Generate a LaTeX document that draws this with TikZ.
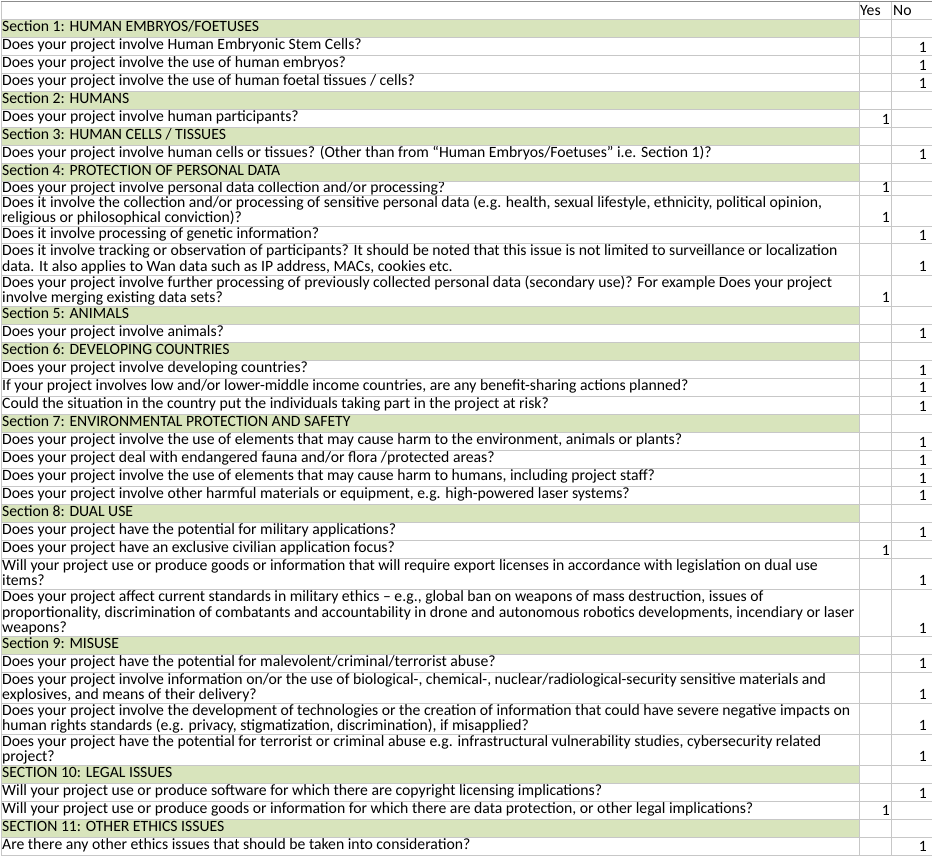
\documentclass[tikz,border=0pt]{standalone}
\usepackage{fontspec}
\setmainfont{Carlito}

\definecolor{sectiongreen}{RGB}{216,228,188}
\tikzstyle{section_fill} = [fill=sectiongreen]
\tikzstyle{grid_line} = [draw=black!22, line width=0.9pt]
\tikzstyle{cell_text} = [anchor=base west, inner sep=0pt, align=left, font=\fontsize{15.7}{15.5}\selectfont]
\tikzstyle{answer} = [anchor=base east, inner sep=0pt, font=\fontsize{15.7}{15.5}\selectfont]

\begin{document}
\begin{tikzpicture}[x=1pt, y=-1pt]
    \useasboundingbox (0,0) rectangle (932,856);

    % section rows
    \foreach \t/\b in {19.3/37.7, 91.7/109.7, 127.7/145.7, 163.3/181.7, 306/324.3, 342/360,
                       414.3/432.7, 504/522.3, 636.7/654.7, 765/783.3, 819/837.7}
        \fill [section_fill] (1,\t) rectangle (859.3,\b);

    % header
    \node (yes) [cell_text] at (860,16) {Yes};
    \node (no)  [cell_text] at (893,16) {No};

    % Section 1
    \node (sec1) [cell_text] at (2,31.3) {Section 1: HUMAN EMBRYOS/FOETUSES};
    \node (q1a) [cell_text] at (2,49.7) {Does your project involve Human Embryonic Stem Cells?};
    \node (a1a) [answer] at (927,52.4) {1};
    \node (q1b) [cell_text] at (2,67.7) {Does your project involve the use of human embryos?};
    \node (a1b) [answer] at (927,70.4) {1};
    \node (q1c) [cell_text] at (2,85.7) {Does your project involve the use of human foetal tissues / cells?};
    \node (a1c) [answer] at (927,88.4) {1};

    % Section 2
    \node (sec2) [cell_text] at (2,103.7) {Section 2: HUMANS};
    \node (q2a) [cell_text] at (2,121.7) {Does your project involve human participants?};
    \node (a2a) [answer] at (890,124.4) {1};

    % Section 3
    \node (sec3) [cell_text] at (2,139.7) {Section 3: HUMAN CELLS / TISSUES};
    \node (q3a) [cell_text] at (2,157.5) {Does your project involve human cells or tissues? (Other than from “Human Embryos/Foetuses” i.e. Section 1)?};
    \node (a3a) [answer] at (927,160) {1};

    % Section 4
    \node (sec4) [cell_text] at (2,175.5) {Section 4: PROTECTION OF PERSONAL DATA};
    \node (q4a) [cell_text] at (2,192.5) {Does your project involve personal data collection and/or processing?};
    \node (a4a) [answer] at (890,192.7) {1};
    \node (q4b) [cell_text] at (2,222.8) {Does it involve the collection and/or processing of sensitive personal data (e.g. health, sexual lifestyle, ethnicity, political opinion,\\religious or philosophical conviction)?};
    \node (a4b) [answer] at (890,222.7) {1};
    \node (q4c) [cell_text] at (2,238) {Does it involve processing of genetic information?};
    \node (a4c) [answer] at (927,240) {1};
    \node (q4d) [cell_text] at (2,271) {Does it involve tracking or observation of participants? It should be noted that this issue is not limited to surveillance or localization\\data. It also applies to Wan data such as IP address, MACs, cookies etc.};
    \node (a4d) [answer] at (927,271.7) {1};
    \node (q4e) [cell_text] at (2,302.5) {Does your project involve further processing of previously collected personal data (secondary use)? For example Does your project\\involve merging existing data sets?};
    \node (a4e) [answer] at (890,302.7) {1};

    % Section 5
    \node (sec5) [cell_text] at (2,318) {Section 5: ANIMALS};
    \node (q5a) [cell_text] at (2,336.3) {Does your project involve animals?};
    \node (a5a) [answer] at (927,338.7) {1};

    % Section 6
    \node (sec6) [cell_text] at (2,354) {Section 6: DEVELOPING COUNTRIES};
    \node (q6a) [cell_text] at (2,372.3) {Does your project involve developing countries?};
    \node (a6a) [answer] at (927,375) {1};
    \node (q6b) [cell_text] at (2,390) {If your project involves low and/or lower-middle income countries, are any benefit-sharing actions planned?};
    \node (a6b) [answer] at (927,392.7) {1};
    \node (q6c) [cell_text] at (2,408) {Could the situation in the country put the individuals taking part in the project at risk?};
    \node (a6c) [answer] at (927,411) {1};

    % Section 7
    \node (sec7) [cell_text] at (2,426.3) {Section 7: ENVIRONMENTAL PROTECTION AND SAFETY};
    \node (q7a) [cell_text] at (2,444.7) {Does your project involve the use of elements that may cause harm to the environment, animals or plants?};
    \node (a7a) [answer] at (927,447) {1};
    \node (q7b) [cell_text] at (2,462.3) {Does your project deal with endangered fauna and/or flora /protected areas?};
    \node (a7b) [answer] at (927,465) {1};
    \node (q7c) [cell_text] at (2,480.3) {Does your project involve the use of elements that may cause harm to humans, including project staff?};
    \node (a7c) [answer] at (927,483) {1};
    \node (q7d) [cell_text] at (2,498.3) {Does your project involve other harmful materials or equipment, e.g. high-powered laser systems?};
    \node (a7d) [answer] at (927,500.7) {1};

    % Section 8
    \node (sec8) [cell_text] at (2,516) {Section 8: DUAL USE};
    \node (q8a) [cell_text] at (2,534.3) {Does your project have the potential for military applications?};
    \node (a8a) [answer] at (927,537) {1};
    \node (q8b) [cell_text] at (2,552.5) {Does your project have an exclusive civilian application focus?};
    \node (a8b) [answer] at (890,555) {1};
    \node (q8c) [cell_text] at (2,585.8) {Will your project use or produce goods or information that will require export licenses in accordance with legislation on dual use\\items?};
    \node (a8c) [answer] at (927,585.7) {1};
    \node (q8d) [cell_text] at (2,632.5) {Does your project affect current standards in military ethics – e.g., global ban on weapons of mass destruction, issues of\\proportionality, discrimination of combatants and accountability in drone and autonomous robotics developments, incendiary or laser\\weapons?};
    \node (a8d) [answer] at (927,633.4) {1};

    % Section 9
    \node (sec9) [cell_text] at (2,648.7) {Section 9: MISUSE};
    \node (q9a) [cell_text] at (2,666.7) {Does your project have the potential for malevolent/criminal/terrorist abuse?};
    \node (a9a) [answer] at (927,668.7) {1};
    \node (q9b) [cell_text] at (2,699.5) {Does your project involve information on/or the use of biological-, chemical-, nuclear/radiological-security sensitive materials and\\explosives, and means of their delivery?};
    \node (a9b) [answer] at (927,699.7) {1};
    \node (q9c) [cell_text] at (2,730.5) {Does your project involve the development of technologies or the creation of information that could have severe negative impacts on\\human rights standards (e.g. privacy, stigmatization, discrimination), if misapplied?};
    \node (a9c) [answer] at (927,730.7) {1};
    \node (q9d) [cell_text] at (2,761.5) {Does your project have the potential for terrorist or criminal abuse e.g. infrastructural vulnerability studies, cybersecurity related\\project?};
    \node (a9d) [answer] at (927,761.7) {1};

    % Section 10
    \node (sec10) [cell_text] at (2,777) {SECTION 10: LEGAL ISSUES};
    \node (q10a) [cell_text] at (2,795.3) {Will your project use or produce software for which there are copyright licensing implications?};
    \node (a10a) [answer] at (927,798) {1};
    \node (q10b) [cell_text] at (2,813.3) {Will your project use or produce goods or information for which there are data protection, or other legal implications?};
    \node (a10b) [answer] at (890,815.7) {1};

    % Section 11
    \node (sec11) [cell_text] at (2,831) {SECTION 11: OTHER ETHICS ISSUES};
    \node (q11a) [cell_text] at (2,849.7) {Are there any other ethics issues that should be taken into consideration?};
    \node (a11a) [answer] at (927,851.7) {1};

    % grid
    \foreach \y in {19.3, 37.7, 55.7, 73.7, 91.7, 109.7, 127.7, 145.7, 163.3, 181.7, 195, 226, 243.3,
                    275, 306, 324.3, 342, 360, 378.3, 396, 414.3, 432.7, 450.3, 468.3, 486.3, 504,
                    522.3, 540.5, 558.3, 589, 636.7, 654.7, 672, 703, 734, 765, 783.3, 801.3, 819,
                    837.7, 855}
        \draw [grid_line] (1,\y) -- (932,\y);
    \foreach \x in {1, 859.3, 891.3}
        \draw [grid_line] (\x,1.7) -- (\x,855);
    \draw [draw=black!45, line width=0.9pt] (1,1.7) -- (932,1.7);
\end{tikzpicture}
\end{document}
